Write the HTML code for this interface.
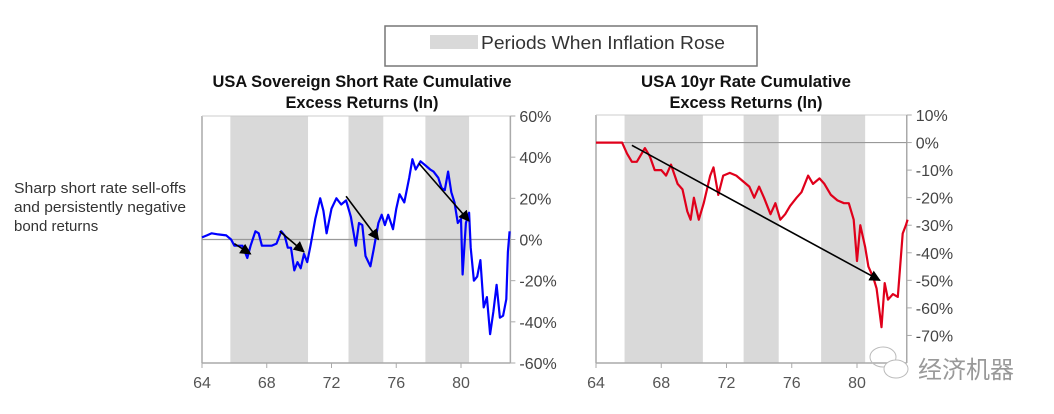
<!DOCTYPE html>
<html><head><meta charset="utf-8"><style>
body{margin:0;background:#fff;}
svg{display:block;font-family:"Liberation Sans Narrow","Liberation Sans",sans-serif;}
</style></head><body>
<svg id="chart" width="1054" height="414" viewBox="0 0 1054 414" xmlns="http://www.w3.org/2000/svg">
<defs><marker id="ah" viewBox="0 0 10 10" refX="9" refY="5" markerWidth="7" markerHeight="7" orient="auto"><path d="M0,0L10,5L0,10z" fill="#000"/></marker></defs>
<g>
<rect x="385" y="26" width="372" height="40" fill="#fff" stroke="#777" stroke-width="1.5"/>
<rect x="430" y="35" width="48" height="14" fill="#d9d9d9"/>
<text x="481" y="49" font-size="18" fill="#333" textLength="244" lengthAdjust="spacingAndGlyphs">Periods When Inflation Rose</text>
</g>
<g font-weight="bold" font-size="17" fill="#111" text-anchor="middle">
<text x="362" y="87" textLength="299" lengthAdjust="spacingAndGlyphs">USA Sovereign Short Rate Cumulative</text>
<text x="362" y="108" textLength="153" lengthAdjust="spacingAndGlyphs">Excess Returns (ln)</text>
</g>
<g font-weight="bold" font-size="17" fill="#111" text-anchor="middle">
<text x="746" y="87" textLength="210" lengthAdjust="spacingAndGlyphs">USA 10yr Rate Cumulative</text>
<text x="746" y="108" textLength="153" lengthAdjust="spacingAndGlyphs">Excess Returns (ln)</text>
</g>
<g font-size="15" fill="#333">
<text x="14" y="193" textLength="172" lengthAdjust="spacingAndGlyphs">Sharp short rate sell-offs</text>
<text x="14" y="212" textLength="172" lengthAdjust="spacingAndGlyphs">and persistently negative</text>
<text x="14" y="231">bond returns</text>
</g>
<g id="left"></g>
<g id="right"></g>
<g>
<ellipse cx="883" cy="357" rx="13" ry="10" fill="none" stroke="#bbb"/>
<ellipse cx="896" cy="369" rx="12" ry="9" fill="#fff" stroke="#bbb"/>
<text x="918" y="378" font-size="24" fill="#999" font-family="'Noto Sans CJK SC',sans-serif">经济机器</text>
</g>
</svg>
<script>
const bands=[[65.75,70.55],[73.05,75.2],[77.8,80.5]];
const xTicks=[64,68,72,76,80];
const leftYTicks=[60,40,20,0,-20,-40,-60];
const rightYTicks=[10,0,-10,-20,-30,-40,-50,-60,-70];
const leftYears=[64,64.3,64.6,65,65.5,65.8,66,66.5,66.8,67,67.3,67.5,67.7,68,68.3,68.6,68.9,69.1,69.3,69.5,69.7,69.9,70.1,70.3,70.5,70.7,71,71.3,71.5,71.7,72,72.3,72.6,72.9,73.2,73.5,73.7,73.9,74.1,74.4,74.6,74.9,75.1,75.3,75.5,75.8,76,76.2,76.5,76.8,77,77.2,77.5,77.8,78.1,78.3,78.6,78.8,79,79.2,79.4,79.6,79.8,80,80.1,80.3,80.5,80.6,80.8,81,81.2,81.4,81.6,81.8,82,82.2,82.4,82.6,82.8,82.9,83];
const leftValues=[1,2,3,2.5,2,0,-3,-3,-9,-3,4,3,-3,-3,-3,-2,4,2,-4,-4,-15,-11,-14,-7,-11,-3,10,20,14,3,15,20,17,19,11,-3,8,7,-8,-13,-5,8,12,7,12,5,15,22,18,30,39,34,38,36,34,33,30,25,24,33,23,18,8,10,-17,8,13,-4,-20,-18,-10,-33,-28,-46,-35,-22,-38,-37,-29,-6,4];
const rightYears=[64,65,65.6,65.9,66.2,66.5,66.8,67,67.3,67.6,68,68.3,68.6,69,69.3,69.6,69.8,70,70.3,70.6,71,71.2,71.5,71.8,72.2,72.6,73,73.4,73.7,74,74.3,74.7,75,75.3,75.6,75.9,76.3,76.6,77,77.3,77.7,78,78.4,78.8,79.2,79.5,79.8,80,80.2,80.5,80.7,81,81.2,81.5,81.7,81.9,82.2,82.5,82.8,83,83.1];
const rightValues=[0,0,0,-4,-7,-7,-4,-2,-5,-10,-10,-12,-8,-15,-17,-25,-28,-20,-28,-22,-12,-9,-19,-12,-11,-12,-14,-16,-20,-16,-20,-26,-22,-28,-26,-23,-20,-18,-12,-15,-13,-15,-19,-21,-22,-22,-28,-43,-30,-38,-45,-49,-53,-67,-51,-57,-55,-56,-33,-30,-28];
const leftArrows=[[66,-2,67,-7],[68.8,4,70.3,-6],[72.9,21,74.9,0],[77.4,37,80.5,9]];
const rightArrows=[[66.2,-1,81.4,-50]];
const NS="http://www.w3.org/2000/svg";
function mk(p,t,a){const e=document.createElementNS(NS,t);for(const k in a)e.setAttribute(k,a[k]);p.appendChild(e);return e;}
function draw(g,cfg){
 const x=v=>cfg.x0+(v-64)*(cfg.x1-cfg.x0)/16;
 const y=v=>cfg.yTop+(cfg.ymax-v)*(cfg.yBot-cfg.yTop)/(cfg.ymax-cfg.ymin);
 const xr=x(83.05);
 bands.forEach(b=>{const r=mk(g,'rect',{x:x(b[0]),y:cfg.yTop,width:x(b[1])-x(b[0]),height:cfg.yBot-cfg.yTop,fill:'#d9d9d9'});
 
 });
 mk(g,'line',{x1:x(64),y1:cfg.yTop,x2:x(64),y2:cfg.yBot,stroke:'#aaa','stroke-width':1.5});
 mk(g,'line',{x1:x(64),y1:cfg.yBot,x2:xr,y2:cfg.yBot,stroke:'#aaa','stroke-width':1.5});
 mk(g,'line',{x1:x(64),y1:cfg.yTop,x2:xr,y2:cfg.yTop,stroke:'#ccc','stroke-width':1});
 mk(g,'line',{x1:xr,y1:cfg.yTop,x2:xr,y2:cfg.yBot,stroke:'#aaa','stroke-width':1.5});
 mk(g,'line',{x1:x(64),y1:y(0),x2:xr,y2:y(0),stroke:'#999','stroke-width':1.2});
 xTicks.forEach(t=>{mk(g,'line',{x1:x(t),y1:cfg.yBot,x2:x(t),y2:cfg.yBot+5,stroke:'#aaa'});
 const tx=mk(g,'text',{x:x(t),y:cfg.yBot+25,'font-size':16,fill:'#555','text-anchor':'middle'});tx.textContent=t;
 
 });
 cfg.yt.forEach(t=>{mk(g,'line',{x1:xr,y1:y(t),x2:xr+5,y2:y(t),stroke:'#aaa'});
 const tx=mk(g,'text',{x:xr+9,y:y(t)+6,'font-size':16,fill:'#444'});tx.textContent=t+'%';
 
 });
 const pts=cfg.xs.map((v,i)=>x(v).toFixed(1)+','+y(cfg.vs[i]).toFixed(1)).join(' ');
 const pl=mk(g,'polyline',{points:pts,fill:'none',stroke:cfg.color,'stroke-width':2.2,'stroke-linejoin':'round'});
 
 
 cfg.arrows.forEach(a=>{const l=mk(g,'line',{x1:x(a[0]),y1:y(a[1]),x2:x(a[2]),y2:y(a[3]),stroke:'#000','stroke-width':1.6,'marker-end':'url(#ah)'});
 
 });
}
draw(document.getElementById('left'),{x0:202,x1:461,yTop:116,yBot:363,ymax:60,ymin:-60,yt:leftYTicks,xs:leftYears,vs:leftValues,color:'#0000ff',arrows:leftArrows});
draw(document.getElementById('right'),{x0:596,x1:857,yTop:115,yBot:363,ymax:10,ymin:-80,yt:rightYTicks,xs:rightYears,vs:rightValues,color:'#e0001b',arrows:rightArrows});
</script>
</body></html>
